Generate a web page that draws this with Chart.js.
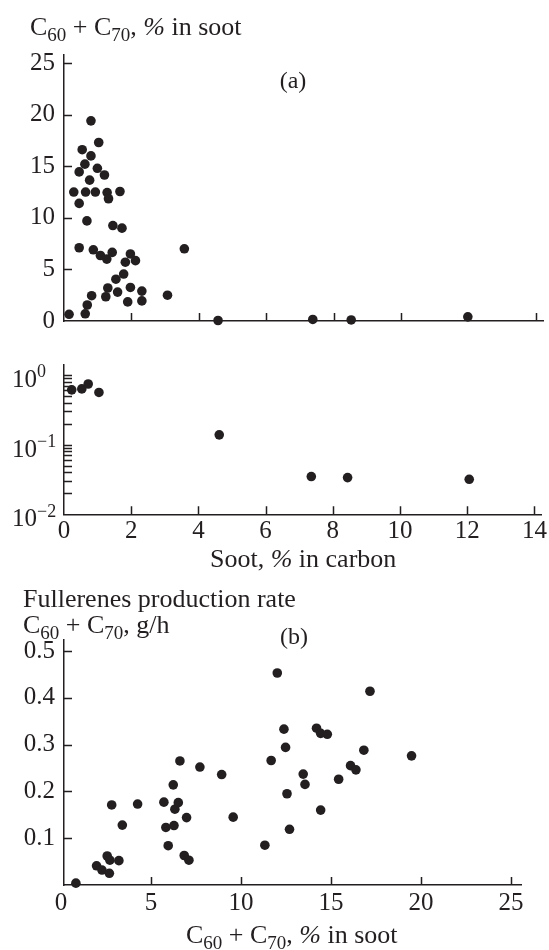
<!DOCTYPE html>
<html lang="en">
<head>
<meta charset="UTF-8">
<title>Fullerene yield and soot content</title>
<script src="https://cdn.jsdelivr.net/npm/chart.js@4.4.0/dist/chart.umd.min.js"></script>
<style>
  body { margin: 0; background: #fff; }
  .wrap { position: relative; width: 549px; height: 950px; }
  canvas { position: absolute; left: 0; }
</style>
</head>
<body>
<div class="wrap">
  <canvas id="chartA" width="549" height="345" style="top:0"></canvas>
  <canvas id="chartLog" width="549" height="235" style="top:345px"></canvas>
  <canvas id="chartB" width="549" height="370" style="top:580px"></canvas>
</div>
<script>
// (a) upper part: fullerene content of soot vs soot content of carbon
const sootA = [0.80, 1.03, 0.54, 0.80, 0.62, 0.99, 0.45, 1.20, 0.76, 0.29, 0.64, 0.93, 1.28, 1.32, 1.66, 0.45,
               0.68, 1.45, 1.72, 0.45, 0.87, 1.08, 1.27, 1.43, 1.97, 1.82, 2.12, 3.57, 1.77, 1.54, 1.30, 1.59,
               1.97, 2.31, 1.24, 0.82, 1.89, 2.31, 3.07, 0.69, 0.15, 0.63, 4.57, 7.38, 8.52, 11.98];
const fullA = [19.4, 17.3, 16.6, 16.0, 15.2, 14.8, 14.45, 14.15, 13.65, 12.5, 12.5, 12.5, 12.45, 11.85, 12.55, 11.4,
               9.7, 9.25, 9.0, 7.1, 6.9, 6.35, 6.0, 6.65, 6.5, 5.7, 5.85, 7.0, 4.55, 4.05, 3.2, 2.8,
               3.25, 2.9, 2.35, 2.45, 1.85, 1.95, 2.5, 1.55, 0.65, 0.7, 0.05, 0.15, 0.1, 0.4];

// (a) lower part, log scale
const sootLog = [0.23, 0.53, 0.72, 1.04, 4.62, 7.36, 8.44, 12.06];
const fullLog = [0.61, 0.63, 0.74, 0.56, 0.138, 0.0348, 0.0336, 0.0318];

// (b) production rate vs fullerene content of soot
const fullB = [0.83, 1.98, 2.28, 2.57, 2.72, 2.69, 3.22, 2.82, 3.41, 4.26, 5.72, 5.83, 5.96, 6.24, 6.28, 6.33,
               6.52, 6.61, 6.85, 6.98, 7.11, 7.72, 8.93, 9.57, 11.33, 11.68, 12.02, 12.39, 12.48, 12.56, 12.70,
               13.46, 13.56, 14.20, 14.43, 14.43, 14.80, 15.43, 16.09, 16.39, 16.83, 17.17, 19.48];
const rateB = [0.004, 0.041, 0.032, 0.062, 0.053, 0.025, 0.052, 0.171, 0.128, 0.173, 0.177, 0.123, 0.084, 0.214,
               0.127, 0.162, 0.176, 0.265, 0.063, 0.144, 0.053, 0.252, 0.236, 0.145, 0.085, 0.266, 0.453, 0.333,
               0.294, 0.195, 0.119, 0.237, 0.215, 0.335, 0.324, 0.160, 0.322, 0.226, 0.255, 0.246, 0.288, 0.414,
               0.276];

// tick values
const sootTicks = [0, 2, 4, 6, 8, 10, 12, 14];
const fullTicksA = [0, 5, 10, 15, 20, 25];
const logDecades = [0.01, 0.1, 1];
const logExponents = ['\u22122', '\u22121', '0'];
const logMinor = [2, 3, 4, 5, 6, 7, 8, 9];
const fullTicksB = [0, 5, 10, 15, 20, 25];
const rateTicksB = [0.1, 0.2, 0.3, 0.4, 0.5];

const INK = '#231f20';
const SERIF = '"Liberation Serif", "Times New Roman", serif';

// text with subscript / superscript / italic runs
function drawRich(ctx, x, y, parts, size, align) {
  const small = Math.round(size * 0.72);
  const fontOf = k => (k === 'it' ? 'italic ' : '') + (k === 'sub' || k === 'sup' ? small : size) + 'px ' + SERIF;
  let w = 0;
  parts.forEach(([t, k]) => { ctx.font = fontOf(k); w += ctx.measureText(t).width; });
  let cx = align === 'center' ? x - w / 2 : x;
  ctx.save();
  ctx.fillStyle = INK;
  ctx.textAlign = 'left';
  ctx.textBaseline = 'alphabetic';
  parts.forEach(([t, k]) => {
    ctx.font = fontOf(k);
    const dy = k === 'sub' ? size * 0.24 : k === 'sup' ? -size * 0.38 : 0;
    ctx.fillText(t, cx, y + dy);
    cx += ctx.measureText(t).width;
  });
  ctx.restore();
}

const richText = {
  id: 'richText',
  afterDraw(chart, args, opts) {
    (opts.items || []).forEach(it => drawRich(chart.ctx, it.x, it.y, it.parts, it.size || 26, it.align));
  }
};

// short tick marks pointing into the plot, like the printed axes
const inwardTicks = {
  id: 'inwardTicks',
  afterDraw(chart, args, opts) {
    const { ctx, chartArea: a } = chart;
    const xs = chart.scales.x, ys = chart.scales.y;
    const len = opts.len || 8;
    ctx.save();
    ctx.strokeStyle = INK;
    ctx.lineWidth = 1.5;
    ctx.beginPath();
    xs.ticks.forEach(t => {
      const px = Math.round(xs.getPixelForValue(t.value)) + 0.5;
      if (px < a.left + 2 || px > a.right + 1) return;
      ctx.moveTo(px, a.bottom);
      ctx.lineTo(px, a.bottom - len);
    });
    ys.ticks.forEach(t => {
      const py = Math.round(ys.getPixelForValue(t.value)) + 0.5;
      if (py > a.bottom - 2 || py < a.top - 1) return;
      ctx.moveTo(a.left, py);
      ctx.lineTo(a.left + len, py);
    });
    ctx.stroke();
    ctx.restore();
  }
};

// 10^n labels on the log axis
const logLabels = {
  id: 'logLabels',
  afterDraw(chart) {
    const ys = chart.scales.y;
    logDecades.forEach((d, i) => {
      const py = ys.getPixelForValue(d);
      drawRich(chart.ctx, 12, py + 12, [['10', ''], [logExponents[i], 'sup']], 25, 'left');
    });
  }
};

const tickFont = { family: SERIF, size: 25 };

function scatterSet(xs, ys) {
  return {
    data: xs.map((x, i) => ({ x: x, y: ys[i] })),
    pointRadius: 4.8,
    pointBackgroundColor: INK,
    pointBorderWidth: 0,
    showLine: false,
    clip: false
  };
}

// the scale boxes get fixed sizes so every panel lines up on the page
function xAxis(min, max, values, showLabels, pad, boxH) {
  return {
    type: 'linear', min: min, max: max,
    afterFit: s => { s.height = boxH; },
    afterBuildTicks: s => { s.ticks = values.map(v => ({ value: v })); },
    grid: { display: false, drawTicks: false },
    border: { display: true, color: INK, width: 1.5 },
    ticks: { display: showLabels, color: INK, font: tickFont, padding: pad, autoSkip: false, maxRotation: 0 }
  };
}

function yAxis(type, min, max, values, showLabels, fmt) {
  return {
    type: type, min: min, max: max,
    afterFit: s => { s.width = 64; },
    afterBuildTicks: s => { s.ticks = values.map(v => ({ value: v })); },
    grid: { display: false, drawTicks: false },
    border: { display: true, color: INK, width: 1.5 },
    ticks: { display: showLabels, color: INK, font: tickFont, padding: 9, autoSkip: false, callback: fmt }
  };
}

function options(pad, scales, items) {
  return {
    responsive: false,
    animation: false,
    layout: { padding: pad },
    scales: scales,
    plugins: {
      legend: { display: false },
      tooltip: { enabled: false },
      richText: { items: items },
      inwardTicks: { len: 8 }
    }
  };
}

const subTitle = [['C', ''], ['60', 'sub'], [' + C', ''], ['70', 'sub'], [', ', ''], ['%', 'it'], [' in soot', '']];

new Chart(document.getElementById('chartA'), {
  type: 'scatter',
  data: { datasets: [scatterSet(sootA, fullA)] },
  options: options(
    { left: 0, right: 6, top: 54.8, bottom: 0 },
    {
      x: xAxis(0, 14.21, sootTicks, false, 0, 8.5),
      y: yAxis('linear', 0, 25.8, fullTicksA, true, v => String(v))
    },
    [
      { x: 30, y: 35, parts: subTitle },
      { x: 293, y: 88, parts: [['(a)', '']], size: 24, align: 'center' }
    ]
  ),
  plugins: [richText, inwardTicks]
});

const logTicks = [];
logDecades.forEach(d => {
  logTicks.push(d);
  if (d < 1) logMinor.forEach(m => logTicks.push(+(d * m).toPrecision(3)));
});

new Chart(document.getElementById('chartLog'), {
  type: 'scatter',
  data: { datasets: [scatterSet(sootLog, fullLog)] },
  options: options(
    { left: 0, right: 6, top: 20, bottom: 0 },
    {
      x: xAxis(0, 14.21, sootTicks, true, 2, 65.7),
      y: yAxis('logarithmic', 0.01, 1.387, logTicks, false)
    },
    [
      { x: 210, y: 222, parts: [['Soot, ', ''], ['%', 'it'], [' in carbon', '']] }
    ]
  ),
  plugins: [richText, inwardTicks, logLabels]
});

new Chart(document.getElementById('chartB'), {
  type: 'scatter',
  data: { datasets: [scatterSet(fullB, rateB)] },
  options: options(
    { left: 0, right: 27.3, top: 60, bottom: 0 },
    {
      x: xAxis(0.17, 25.6, fullTicksB, true, 3, 65),
      y: yAxis('linear', 0, 0.5235, rateTicksB, true, v => v.toFixed(1))
    },
    [
      { x: 23, y: 27, parts: [['Fullerenes production rate', '']] },
      { x: 23, y: 53, parts: [['C', ''], ['60', 'sub'], [' + C', ''], ['70', 'sub'], [', g/h', '']] },
      { x: 294, y: 64, parts: [['(b)', '']], size: 24, align: 'center' },
      { x: 186, y: 363, parts: subTitle }
    ]
  ),
  plugins: [richText, inwardTicks]
});
</script>
</body>
</html>
